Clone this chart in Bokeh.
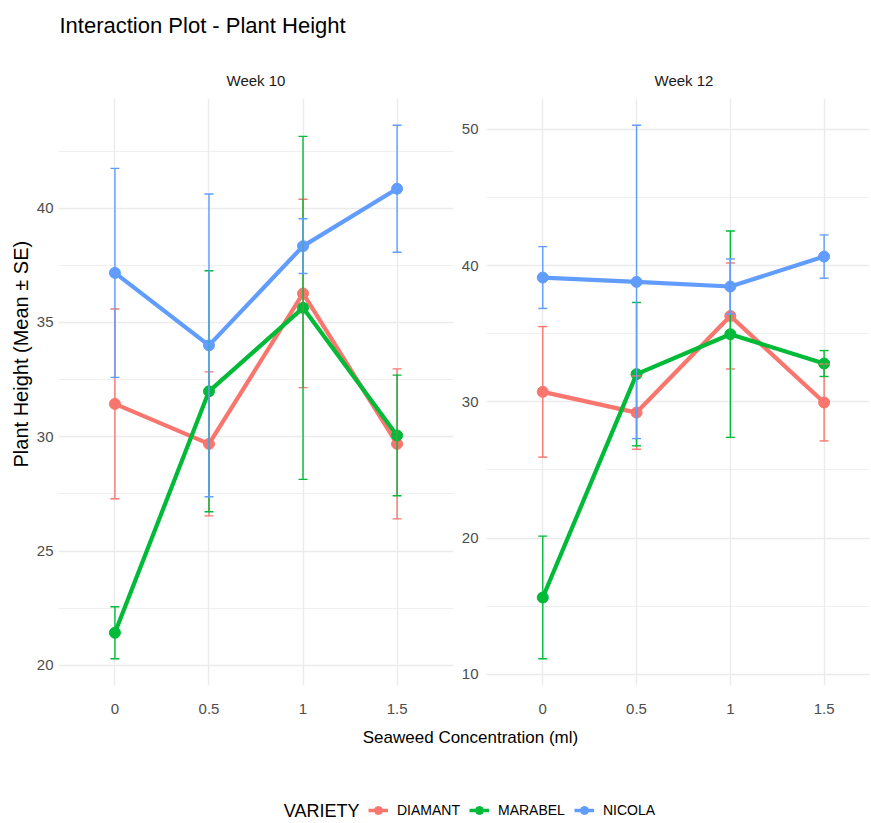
from bokeh.plotting import figure
from bokeh.models import (Range1d, FixedTicker, Title, Legend, LegendItem, Label,
                          ColumnDataSource, Whisker, TeeHead)
from bokeh.layouts import column, row
from bokeh.embed import file_html
from bokeh.resources import INLINE

# ---------------- data ----------------
conc = [0, 0.5, 1, 1.5]
conc_labels = ["0", "0.5", "1", "1.5"]
varieties = ["DIAMANT", "MARABEL", "NICOLA"]
colors = ["#F8766D", "#00BA38", "#619CFF"]

w10_diamant_mean = [31.44, 29.69, 36.27, 29.69]
w10_diamant_se = [4.15, 3.15, 4.12, 3.28]
w10_marabel_mean = [21.43, 31.99, 35.64, 30.06]
w10_marabel_se = [1.14, 5.27, 7.50, 2.64]
w10_nicola_mean = [37.17, 34.00, 38.34, 40.85]
w10_nicola_se = [4.57, 6.62, 1.20, 2.78]

w12_diamant_mean = [30.73, 29.21, 36.30, 29.95]
w12_diamant_se = [4.79, 2.69, 3.89, 2.82]
w12_marabel_mean = [15.64, 32.03, 34.96, 32.81]
w12_marabel_se = [4.50, 5.26, 7.57, 0.95]
w12_nicola_mean = [39.12, 38.80, 38.46, 40.66]
w12_nicola_se = [2.27, 11.50, 2.02, 1.59]

w10_yticks = [20, 25, 30, 35, 40]
w10_yminor = [22.5, 27.5, 32.5, 37.5, 42.5]
w12_yticks = [10, 20, 30, 40, 50]
w12_yminor = [15, 25, 35, 45]

FONT = "Liberation Sans"
TICK_COLOR = "#4d4d4d"
GRID = "#ebebeb"
TOTAL_W = 869


def bare(fig):
    fig.outline_line_color = None
    fig.background_fill_color = "white"
    fig.border_fill_color = "white"


# ---------------- title strip (pixel-mapped) ----------------
t = figure(width=TOTAL_W, height=60, output_backend="svg", toolbar_location=None,
           x_range=Range1d(0, TOTAL_W), y_range=Range1d(0, 60),
           x_axis_type=None, y_axis_type=None, min_border=0)
bare(t)
t.add_layout(Label(x=59, y=35, text="Interaction Plot - Plant Height",
                   text_align="left", text_baseline="middle", text_font=FONT,
                   text_font_size="22px", text_color="black"))


def make_panel(means, ses, strip, width, b_left, b_right, x_end, yticks, yminor,
               y_std, strip_offset=None, ylabel=None):
    lo_all = [m - s for mm, ss in zip(means, ses) for m, s in zip(mm, ss)]
    hi_all = [m + s for mm, ss in zip(means, ses) for m, s in zip(mm, ss)]
    lo, hi = min(lo_all), max(hi_all)
    pad = (hi - lo) * 0.05
    p = figure(width=width, height=662, output_backend="svg", toolbar_location=None,
               x_range=Range1d(-0.3, x_end), y_range=Range1d(lo - pad, hi + pad),
               min_border_top=38, min_border_bottom=37,
               min_border_left=b_left, min_border_right=b_right)
    bare(p)

    if strip_offset is None:
        st = Title(text=strip, align="center")
    else:
        st = Title(text=strip, align="left", offset=strip_offset)
    st.text_font = FONT
    st.text_font_size = "15px"
    st.text_font_style = "normal"
    st.text_color = "#1a1a1a"
    st.standoff = 19
    p.add_layout(st, "above")

    for ax in (p.xaxis[0], p.yaxis[0]):
        ax.axis_line_color = None
        ax.major_tick_line_color = None
        ax.minor_tick_line_color = None
        ax.major_tick_out = 0
        ax.major_tick_in = 0
        ax.minor_tick_out = 0
        ax.minor_tick_in = 0
        ax.major_label_text_font = FONT
        ax.major_label_text_font_size = "15px"
        ax.major_label_text_color = TICK_COLOR
        ax.axis_label_standoff = 0
    p.xaxis.ticker = FixedTicker(ticks=conc)
    p.xaxis.major_label_overrides = {c: l for c, l in zip(conc, conc_labels)}
    p.xaxis.major_label_standoff = 18
    p.yaxis.ticker = FixedTicker(ticks=yticks, minor_ticks=yminor)
    p.yaxis.major_label_standoff = y_std

    p.xgrid.ticker = FixedTicker(ticks=conc)
    p.xgrid.grid_line_color = GRID
    p.xgrid.grid_line_width = 1.4
    p.ygrid.grid_line_color = GRID
    p.ygrid.grid_line_width = 1.4
    p.ygrid.minor_grid_line_color = GRID
    p.ygrid.minor_grid_line_width = 0.8

    if ylabel is not None:
        p.add_layout(Title(text=ylabel, align="left", offset=218,
                           text_font=FONT, text_font_size="20px",
                           text_font_style="normal", text_color="black",
                           standoff=4), "left")

    for m, s, c in zip(means, ses, colors):
        src = ColumnDataSource(dict(x=conc, y=m,
                                    lo=[a - b for a, b in zip(m, s)],
                                    hi=[a + b for a, b in zip(m, s)]))
        w = Whisker(base="x", upper="hi", lower="lo", source=src,
                    line_color=c, line_width=1.4, level="glyph",
                    upper_head=TeeHead(size=9, line_color=c, line_width=1.4),
                    lower_head=TeeHead(size=9, line_color=c, line_width=1.4))
        p.add_layout(w)
    for m, s, c in zip(means, ses, colors):
        src = ColumnDataSource(dict(x=conc, y=m))
        p.line("x", "y", source=src, line_color=c, line_width=4.2)
        p.scatter("x", "y", source=src, marker="circle", size=11,
                  fill_color=c, line_color=c)
    return p


p1 = make_panel([w10_diamant_mean, w10_marabel_mean, w10_nicola_mean],
                [w10_diamant_se, w10_marabel_se, w10_nicola_se],
                "Week 10", 458, 58, 5, 1.8, w10_yticks, w10_yminor, 5,
                ylabel="Plant Height (Mean ± SE)")
p2 = make_panel([w12_diamant_mean, w12_marabel_mean, w12_nicola_mean],
                [w12_diamant_se, w12_marabel_se, w12_nicola_se],
                "Week 12", TOTAL_W - 458, 27, 0, 1.742, w12_yticks, w12_yminor, 8,
                strip_offset=168)

# ---------------- bottom: x-axis title + legend (pixel-mapped) ----------------
# legend key renderers carry the series data, but the key strip's ranges are
# set well away from it so that only the legend keys are seen
X0 = 1000
b = figure(width=TOTAL_W, height=99, output_backend="svg", toolbar_location=None,
           x_range=Range1d(X0, X0 + TOTAL_W), y_range=Range1d(0, 99),
           x_axis_type=None, y_axis_type=None, min_border=0)
bare(b)
b.add_layout(Label(x=X0 + 470, y=84, text="Seaweed Concentration (ml)",
                   text_align="center", text_baseline="middle", text_font=FONT,
                   text_font_size="17px", text_color="black"))

items = []
for v, c, m in zip(varieties, colors, [w10_diamant_mean, w10_marabel_mean, w10_nicola_mean]):
    src = ColumnDataSource(dict(x=conc, y=m))
    r1 = b.line("x", "y", source=src, line_color=c, line_width=3.5)
    r2 = b.scatter("x", "y", source=src, marker="circle", size=9, fill_color=c, line_color=c)
    items.append(LegendItem(label=v, renderers=[r1, r2], index=0))
leg = Legend(items=items, orientation="horizontal",
             location=(368, 1), label_text_font=FONT, label_text_font_size="14px",
             label_text_color="black", border_line_color=None,
             background_fill_alpha=0, padding=0, margin=0, glyph_width=20,
             glyph_height=20, spacing=9, label_standoff=9)
b.add_layout(leg)
b.add_layout(Label(x=X0 + 359, y=11, text="VARIETY", text_align="right",
                   text_baseline="middle", text_font=FONT, text_font_size="18px",
                   text_color="black"))

layout = column(t, row(p1, p2), b)
open("out.html", "w").write(file_html(layout, INLINE))
